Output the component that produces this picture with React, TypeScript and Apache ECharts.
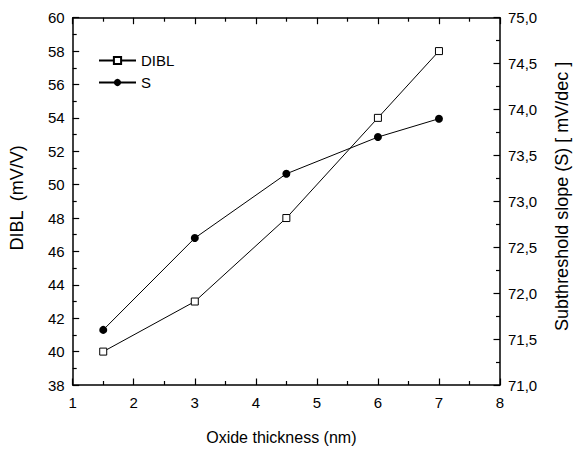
import React, { useEffect, useRef } from "react";
import * as echarts from "echarts";

// Oxide thickness (nm)
const thickness = [1.5, 3, 4.5, 6, 7];
// DIBL (mV/V)
const dibl = [40, 43, 48, 54, 58];
// Subthreshold slope S (mV/dec)
const slope = [71.6, 72.6, 73.3, 73.7, 73.9];

const FONT = "'Liberation Sans', Arial, Helvetica, sans-serif";

export default function App() {
  const ref = useRef<HTMLDivElement>(null);

  useEffect(() => {
    if (!ref.current) return;
    const chart = echarts.init(ref.current, null, { renderer: "svg" });

    const axisLine = { show: true, onZero: false, lineStyle: { color: "#000", width: 1.5 } };
    const tick = { show: true, inside: true, length: 6.5, lineStyle: { color: "#000", width: 1.2 } };
    const minor = { show: true, splitNumber: 2, length: 4, lineStyle: { color: "#000", width: 1.2 } };
    const labelStyle = { color: "#000", fontSize: 15, fontFamily: FONT };
    const xNameStyle = { color: "#000", fontSize: 16, fontFamily: FONT, padding: [0, 10, 0, 0] };
    const leftNameStyle = { color: "#000", fontSize: 18, fontFamily: FONT, padding: [0, 0, 0, 7] };
    const rightNameStyle = { color: "#000", fontSize: 18, fontFamily: FONT, padding: [0, 0, 0, 10] };

    chart.setOption({
      animation: false,
      backgroundColor: "#fff",
      grid: { left: 72.7, right: 71, top: 17.7, bottom: 61, containLabel: false },
      legend: {
        orient: "vertical",
        left: 93,
        top: 47,
        itemWidth: 37,
        itemHeight: 9,
        itemGap: 5,
        textStyle: { color: "#000", fontSize: 15, lineHeight: 17, fontFamily: FONT },
        data: ["DIBL", "S"],
      },
      xAxis: [
        {
          type: "value",
          position: "bottom",
          min: 1,
          max: 8,
          interval: 1,
          name: "Oxide thickness (nm)",
          nameLocation: "middle",
          nameGap: 44,
          nameTextStyle: xNameStyle,
          axisLine,
          axisTick: tick,
          minorTick: minor,
          axisLabel: { ...labelStyle, margin: 10 },
          splitLine: { show: false },
        },
        {
          type: "value",
          position: "top",
          min: 1,
          max: 8,
          interval: 1,
          axisLine,
          axisTick: tick,
          minorTick: minor,
          axisLabel: { show: false },
          splitLine: { show: false },
        },
      ],
      yAxis: [
        {
          type: "value",
          position: "left",
          min: 38,
          max: 60,
          interval: 2,
          name: "DIBL  (mV/V)",
          nameLocation: "middle",
          nameGap: 46.5,
          nameTextStyle: leftNameStyle,
          axisLine,
          axisTick: tick,
          minorTick: minor,
          axisLabel: { ...labelStyle, margin: 8 },
          splitLine: { show: false },
        },
        {
          type: "value",
          position: "right",
          min: 71,
          max: 75,
          interval: 0.5,
          name: "Subthreshold slope (S) [ mV/dec ]",
          nameLocation: "middle",
          nameGap: 53,
          nameTextStyle: rightNameStyle,
          axisLine,
          axisTick: tick,
          minorTick: minor,
          axisLabel: {
            ...labelStyle,
            margin: 8,
            formatter: (v: number) => v.toFixed(1).replace(".", ","),
          },
          splitLine: { show: false },
        },
      ],
      series: [
        {
          name: "DIBL",
          type: "line",
          xAxisIndex: 0,
          yAxisIndex: 0,
          data: thickness.map((t, i) => [t, dibl[i]]),
          symbol: "rect",
          symbolSize: 7,
          lineStyle: { color: "#000", width: 1 },
          itemStyle: { color: "#fff", borderColor: "#000", borderWidth: 1 },
          z: 3,
        },
        {
          name: "S",
          type: "line",
          xAxisIndex: 0,
          yAxisIndex: 1,
          data: thickness.map((t, i) => [t, slope[i]]),
          symbol: "circle",
          symbolSize: 8,
          lineStyle: { color: "#000", width: 1 },
          itemStyle: { color: "#000", borderColor: "#000", borderWidth: 0 },
          z: 3,
        },
      ],
    });

    return () => chart.dispose();
  }, []);

  return (
    <div
      ref={ref}
      style={{ position: "fixed", left: 0, top: 0, width: 579, height: 450 }}
    />
  );
}
